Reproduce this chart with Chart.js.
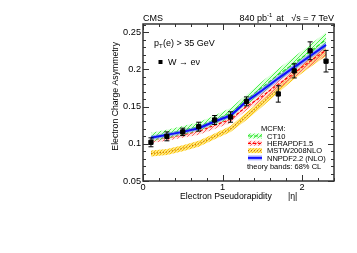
<!DOCTYPE html>
<html>
<head>
<meta charset="utf-8">
<script src="https://cdn.jsdelivr.net/npm/chart.js@4.4.1/dist/chart.umd.min.js"></script>
<style>
  html, body { margin: 0; padding: 0; background: #fff; }
  #wrap { width: 357px; height: 253px; }
</style>
</head>
<body>
<div id="wrap"><canvas id="asymChart" width="357" height="253"></canvas></div>
<script>
// measured points (CMS W -> e nu, 840 pb-1)
const dataEta = [0.1, 0.3, 0.5, 0.7, 0.9, 1.1, 1.3, 1.7, 1.9, 2.1, 2.3];
const dataAsym = [0.102, 0.110, 0.116, 0.123, 0.132, 0.136, 0.157, 0.167, 0.198, 0.225, 0.211];
const dataErr = [0.006, 0.006, 0.005, 0.006, 0.006, 0.007, 0.006, 0.011, 0.0095, 0.012, 0.0145];

// MCFM predictions, centre value and band half width
const theoryEta = [0.1, 0.3, 0.5, 0.7, 0.9, 1.1, 1.3, 1.5, 1.7, 1.9, 2.1, 2.3];
const ct10 = [0.109, 0.113, 0.118, 0.123, 0.132, 0.141, 0.159, 0.176, 0.193, 0.208, 0.224, 0.240];
const ct10Err = [0.006, 0.006, 0.006, 0.006, 0.006, 0.007, 0.007, 0.008, 0.008, 0.009, 0.009, 0.010];
const hera = [0.105, 0.108, 0.112, 0.117, 0.125, 0.133, 0.150, 0.164, 0.180, 0.195, 0.211, 0.226];
const heraErr = [0.004, 0.004, 0.004, 0.005, 0.005, 0.005, 0.005, 0.006, 0.006, 0.006, 0.007, 0.007];
const mstw = [0.087, 0.089, 0.094, 0.100, 0.110, 0.120, 0.137, 0.155, 0.174, 0.192, 0.209, 0.224];
const mstwErr = [0.004, 0.004, 0.004, 0.004, 0.004, 0.004, 0.005, 0.005, 0.005, 0.005, 0.006, 0.006];
const nnpdf = [0.108, 0.112, 0.116, 0.121, 0.130, 0.138, 0.157, 0.172, 0.188, 0.203, 0.218, 0.233];
const nnpdfErr = [0.003, 0.003, 0.003, 0.003, 0.003, 0.003, 0.003, 0.004, 0.004, 0.004, 0.004, 0.004];

const xTicks = [0, 1, 2];
const yTicks = [0.05, 0.1, 0.15, 0.2, 0.25];

const FONT = '"Liberation Sans", Arial, Helvetica, sans-serif';

// little hatch pattern for the theory bands
function hatch(line, bg, size) {
  const c = document.createElement('canvas');
  c.width = size; c.height = size;
  const x = c.getContext('2d');
  if (bg) { x.fillStyle = bg; x.fillRect(0, 0, size, size); }
  x.strokeStyle = line;
  x.lineWidth = 1;
  x.beginPath();
  x.moveTo(0, size); x.lineTo(size, 0);
  x.moveTo(-1, 1); x.lineTo(1, -1);
  x.moveTo(size - 1, size + 1); x.lineTo(size + 1, size - 1);
  x.stroke();
  return x.createPattern(c, 'repeat');
}

const bands = [
  { name: 'NNPDF2.2 (NLO)', c: nnpdf, e: nnpdfErr, fill: 'rgba(110,120,255,0.55)', line: '#1010ff', width: 2, dash: [], order: 1 },
  { name: 'CT10', c: ct10, e: ct10Err, fill: hatch('rgba(60,240,60,0.9)', 'rgba(190,255,190,0.5)', 4), line: '#22dd22', width: 1.2, dash: [4, 2], order: 2 },
  { name: 'HERAPDF1.5', c: hera, e: heraErr, fill: hatch('rgba(255,80,80,0.85)', 'rgba(255,200,200,0.5)', 4), line: '#ff0000', width: 1.2, dash: [3, 2], order: 3 },
  { name: 'MSTW2008NLO', c: mstw, e: mstwErr, fill: hatch('rgba(250,195,0,0.95)', 'rgba(255,225,110,0.85)', 3), line: '#c07000', width: 1.2, dash: [1, 2], order: 4 }
];

function pts(xs, ys) {
  return xs.map((x, i) => ({ x: x, y: ys[i] }));
}

const datasets = [{
  label: 'W -> e nu',
  data: pts(dataEta, dataAsym),
  showLine: false,
  pointStyle: 'rect',
  pointRadius: 3,
  pointBackgroundColor: '#000',
  pointBorderColor: '#000',
  order: 0
}];

bands.forEach(b => {
  datasets.push({
    label: b.name,
    data: pts(theoryEta, b.c),
    borderColor: b.line,
    borderWidth: b.width,
    borderDash: b.dash,
    pointRadius: 0,
    fill: false,
    order: b.order
  });
  datasets.push({
    label: b.name + ' lo',
    data: pts(theoryEta, b.c.map((v, i) => v - b.e[i])),
    borderWidth: 0,
    pointRadius: 0,
    fill: false,
    order: b.order
  });
  datasets.push({
    label: b.name + ' hi',
    data: pts(theoryEta, b.c.map((v, i) => v + b.e[i])),
    borderWidth: 0,
    pointRadius: 0,
    backgroundColor: b.fill,
    fill: '-1',
    order: b.order
  });
});

// error bars under the data markers
const errorBars = {
  id: 'errorBars',
  beforeDatasetDraw(chart, args) {
    if (args.index !== 0) return;
    const ctx = chart.ctx, y = chart.scales.y, x = chart.scales.x;
    ctx.save();
    ctx.strokeStyle = '#000';
    ctx.lineWidth = 1;
    dataEta.forEach((eta, i) => {
      const px = x.getPixelForValue(eta);
      const top = y.getPixelForValue(dataAsym[i] + dataErr[i]);
      const bot = y.getPixelForValue(dataAsym[i] - dataErr[i]);
      ctx.beginPath();
      ctx.moveTo(px, top); ctx.lineTo(px, bot);
      ctx.moveTo(px - 2.5, top); ctx.lineTo(px + 2.5, top);
      ctx.moveTo(px - 2.5, bot); ctx.lineTo(px + 2.5, bot);
      ctx.stroke();
    });
    ctx.restore();
  }
};

// ROOT style frame, inner ticks and all the labels
const frameAndText = {
  id: 'frameAndText',
  afterDraw(chart) {
    const ctx = chart.ctx, a = chart.chartArea;
    const x = chart.scales.x, y = chart.scales.y;
    ctx.save();
    ctx.strokeStyle = '#333';
    ctx.lineWidth = 1;
    ctx.beginPath();
    for (let v = 0; v <= 2.4001; v += 0.2) {
      const px = Math.round(x.getPixelForValue(v)) + 0.5;
      const len = Math.abs(v - Math.round(v)) < 1e-6 ? 6 : 3;
      ctx.moveTo(px, a.bottom); ctx.lineTo(px, a.bottom - len);
      ctx.moveTo(px, a.top); ctx.lineTo(px, a.top + len);
    }
    for (let v = 0.05; v <= 0.2601; v += 0.01) {
      const py = Math.round(y.getPixelForValue(v)) + 0.5;
      const major = Math.abs(v * 20 - Math.round(v * 20)) < 1e-6;
      const len = major ? 6 : 3;
      ctx.moveTo(a.left, py); ctx.lineTo(a.left + len, py);
      ctx.moveTo(a.right, py); ctx.lineTo(a.right - len, py);
    }
    ctx.stroke();
    ctx.lineWidth = 1.5;
    ctx.strokeRect(a.left, a.top, a.right - a.left, a.bottom - a.top);

    ctx.fillStyle = '#000';
    ctx.textBaseline = 'alphabetic';

    // header
    ctx.font = '9px ' + FONT;
    ctx.textAlign = 'left';
    ctx.fillText('CMS', a.left, a.top - 3);
    ctx.textAlign = 'right';
    ctx.fillText('at   \u221As = 7 TeV', a.right, a.top - 3);
    const w1 = ctx.measureText('at   \u221As = 7 TeV').width;
    ctx.font = '6px ' + FONT;
    ctx.fillText('-1', a.right - w1 - 4, a.top - 7);
    const w2 = ctx.measureText('-1').width;
    ctx.font = '9px ' + FONT;
    ctx.fillText('840 pb', a.right - w1 - 4 - w2, a.top - 3);

    // cut label
    ctx.textAlign = 'left';
    ctx.fillText('p', a.left + 11, a.top + 22);
    ctx.font = '6px ' + FONT;
    ctx.fillText('T', a.left + 16, a.top + 24);
    ctx.font = '9px ' + FONT;
    ctx.fillText('(e) > 35 GeV', a.left + 20, a.top + 22);

    // data legend
    ctx.fillRect(a.left + 15.5, a.top + 36, 4, 4);
    ctx.fillText('W \u2192 e\u03BD', a.left + 25, a.top + 41);

    // axis titles
    ctx.font = '8.7px ' + FONT;
    ctx.fillText('Electron Pseudorapidity', a.left + 37, a.bottom + 18);
    ctx.fillText('|\u03B7|', a.left + 145, a.bottom + 18);
    ctx.save();
    ctx.translate(a.left - 25, a.top + 18);
    ctx.rotate(-Math.PI / 2);
    ctx.textAlign = 'right';
    ctx.fillText('Electron Charge Asymmetry', 0, 0);
    ctx.restore();

    // theory legend
    ctx.font = '7.5px ' + FONT;
    ctx.textAlign = 'left';
    ctx.fillText('MCFM:', a.left + 118, a.top + 107);
    const legOrder = [1, 2, 3, 0];
    legOrder.forEach((bi, k) => {
      const b = bands[bi];
      const cy = a.top + 112 + k * 7.3;
      ctx.fillStyle = b.fill;
      ctx.fillRect(a.left + 105, cy - 2.5, 14, 5);
      ctx.strokeStyle = b.line;
      ctx.lineWidth = b.width;
      ctx.setLineDash(b.dash);
      ctx.beginPath();
      ctx.moveTo(a.left + 105, cy); ctx.lineTo(a.left + 119, cy);
      ctx.stroke();
      ctx.setLineDash([]);
      ctx.fillStyle = '#000';
      ctx.fillText(b.name, a.left + 124, cy + 2.8);
    });
    ctx.fillText('theory bands: 68% CL', a.left + 104, a.top + 145);
    ctx.restore();
  }
};

const ctx = document.getElementById('asymChart').getContext('2d');
const asymChart = new Chart(ctx, {
  type: 'line',
  data: { datasets: datasets },
  options: {
    responsive: false,
    animation: false,
    layout: { padding: { top: 24, right: 23, left: 0, bottom: 0 } },
    plugins: {
      legend: { display: false },
      tooltip: { enabled: false },
      filler: { propagate: false }
    },
    scales: {
      x: {
        type: 'linear',
        min: 0,
        max: 2.4,
        grid: { display: false, drawTicks: false, tickLength: 0 },
        border: { display: false },
        afterFit: s => { s.height = 72; },
        afterBuildTicks: s => { s.ticks = xTicks.map(v => ({ value: v })); },
        ticks: {
          padding: 1,
          color: '#000',
          font: { family: FONT, size: 9.2 },
          callback: v => String(v)
        }
      },
      y: {
        type: 'linear',
        min: 0.05,
        max: 0.261,
        grid: { display: false, drawTicks: false, tickLength: 0 },
        border: { display: false },
        afterFit: s => { s.width = 143; },
        afterBuildTicks: s => { s.ticks = yTicks.map(v => ({ value: v })); },
        ticks: {
          padding: 2,
          color: '#000',
          font: { family: FONT, size: 9.2 },
          callback: v => String(v)
        }
      }
    }
  },
  plugins: [errorBars, frameAndText]
});
</script>
</body>
</html>
